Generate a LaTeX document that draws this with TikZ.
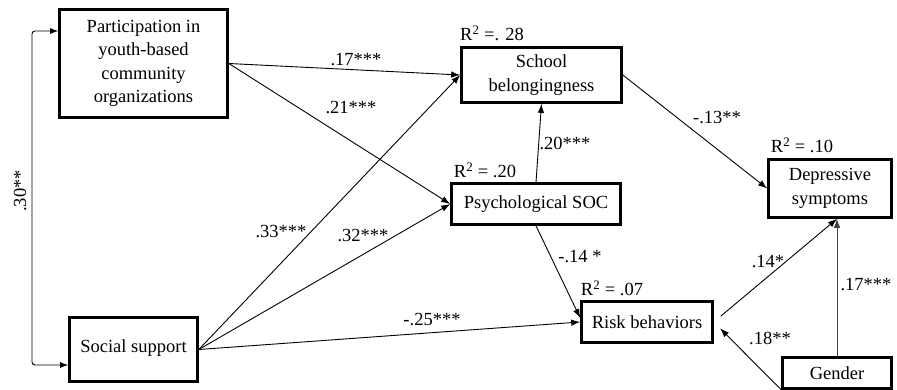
\documentclass[tikz,border=0pt]{standalone}
\usepackage{fontspec}
\setmainfont{Liberation Serif}
\usetikzlibrary{arrows.meta}

\begin{document}
\begin{tikzpicture}[x=1pt, y=-1pt,
        every node/.style={font=\fontsize{18.5}{23.5}\selectfont, inner sep=0pt},
        var/.style={draw, line width=2.6pt, align=center},
        effect/.style={-{Latex[length=9pt, width=6.5pt]}, line width=0.9pt},
        cor/.style={{Latex[length=8pt, width=6pt]}-{Latex[length=8pt, width=6pt]}, line width=0.9pt}]
        \useasboundingbox (0,0) rectangle (897,390);

        % variables
        \node [var, minimum width=168pt, minimum height=108pt] (part) at (143.5,63.5)
                {Participation in\\youth-based\\community\\organizations};
        \node [var, minimum width=128pt, minimum height=64pt] (social) at (133.5,349.5)
                {\raisebox{6pt}{Social support}};
        \node [var, minimum width=160pt, minimum height=55pt] (school) at (541.5,75)
                {School\\belongingness};
        \node [var, minimum width=169pt, minimum height=41pt] (psych) at (536,204)
                {Psychological SOC};
        \node [var, minimum width=131pt, minimum height=41pt] (risk) at (647,322)
                {Risk behaviors};
        \node [var, minimum width=123pt, minimum height=58pt] (depr) at (830,188.5)
                {Depressive\\symptoms};
        \node [var, minimum width=109pt, minimum height=31pt] (gender) at (837,373)
                {Gender};

        % explained variance
        \node (r2school) at (492,33) {R\textsuperscript{2} =. 28};
        \node (r2psych) at (485,170) {R\textsuperscript{2} = .20};
        \node (r2depr) at (802,145) {R\textsuperscript{2} = .10};
        \node (r2risk) at (612,288) {R\textsuperscript{2} = .07};

        % paths
        \draw [cor, rounded corners=3pt] ([yshift=32.5pt]part.west) -| (32,190)
               |- ([yshift=-15.5pt]social.west);
        \draw [effect] (part.east) -- (school.west);
        \draw [effect] (part.east) -- (psych.west);
        \draw [effect] (social.east) -- (school.west);
        \draw [effect] (social.east) -- (psych.west);
        \draw [effect] (social.east) -- (risk.west);
        \draw [effect] (psych.north) -- (school.south);
        \draw [effect] (school.east) -- (depr.west);
        \draw [effect] (psych.south) -- ([yshift=4pt]risk.west);
        \coordinate (dbot) at (gender.north |- depr.south);
        \draw [effect, black!75] (gender.north) -- (dbot);
        \draw [effect, shorten <=9pt] (risk.east) -- (dbot);
        \draw [effect, shorten >=9pt] (gender.south west) -- (risk.east);

        % coefficients
        \node [rotate=90] (c30) at (20,191) {.30**};
        \node (c17a) at (356,60) {.17***};
        \node (c21) at (351,108) {.21***};
        \node (c33) at (281,232) {.33***};
        \node (c32) at (363,236) {.32***};
        \node (c25) at (432,320) {-.25***};
        \node (c20) at (565,143) {.20***};
        \node (c13) at (717,118) {-.13**};
        \node (c14a) at (580,257) {-.14 *};
        \node (c14b) at (768,262) {.14*};
        \node (c17b) at (866,285) {.17***};
        \node (c18) at (770,338) {.18**};
\end{tikzpicture}
\end{document}
